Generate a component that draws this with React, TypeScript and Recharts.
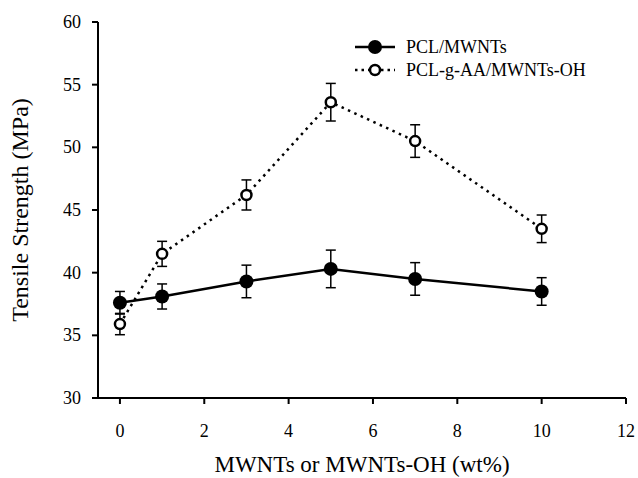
import { ErrorBar, Line, LineChart, XAxis, YAxis } from 'recharts';

const loadings = [0, 1, 3, 5, 7, 10];
const pclMwnts = [37.6, 38.1, 39.3, 40.3, 39.5, 38.5];
const pclMwntsErr = [0.9, 1.0, 1.3, 1.5, 1.3, 1.1];
const pclAaMwntsOh = [35.9, 41.5, 46.2, 53.6, 50.5, 43.5];
const pclAaMwntsOhErr = [0.85, 1.0, 1.2, 1.5, 1.3, 1.1];
const xTicks = [0, 2, 4, 6, 8, 10, 12];
const yTicks = [30, 35, 40, 45, 50, 55, 60];

const data = loadings.map((x, i) => ({
    x,
    pcl: pclMwnts[i],
    pclErr: pclMwntsErr[i],
    aa: pclAaMwntsOh[i],
    aaErr: pclAaMwntsOhErr[i],
}));

const font = '"Liberation Serif", "Times New Roman", serif';

const XTick = ({ x, y, payload }: any) => (
    <text x={x} y={y} dy={16} textAnchor="middle" fill="#000" fontSize={18} fontFamily={font}>
        {payload.value}
    </text>
);

const YTick = ({ x, y, payload }: any) => (
    <text x={x} y={y} dy={6} textAnchor="end" fill="#000" fontSize={18} fontFamily={font}>
        {payload.value}
    </text>
);

// rotated y title, placed from the axis viewBox
const YTitle = ({ viewBox }: any) => {
    const cx = 28;
    const cy = viewBox.y + viewBox.height / 2;
    return (
        <text x={cx} y={cy} transform={`rotate(-90, ${cx}, ${cy})`} textAnchor="middle" fill="#000" fontSize={24} fontFamily={font}>
            Tensile Strength (MPa)
        </text>
    );
};

const LegendBox = () => (
    <svg width={250} height={50} style={{ fontFamily: font, position: 'absolute', left: 350, top: 37 }}>
        <line x1={5} y1={10} x2={45} y2={10} stroke="#000" strokeWidth={2.5} />
        <circle cx={25} cy={10} r={7} fill="#000" />
        <text x={56} y={16} fontSize={18}>PCL/MWNTs</text>
        <line x1={5} y1={33} x2={45} y2={33} stroke="#000" strokeWidth={2.5} strokeDasharray="2.5 4" />
        <circle cx={25} cy={33} r={5} fill="#fff" stroke="#000" strokeWidth={2.5} />
        <text x={56} y={39} fontSize={18}>PCL-g-AA/MWNTs-OH</text>
    </svg>
);

const App = () => {
    return (
        <div style={{ position: 'absolute', left: 0, top: 0, width: 638, height: 478, background: '#fff', fontFamily: font }}>
            <LineChart width={638} height={478} data={data} margin={{ top: 22, right: 12, left: 0, bottom: 0 }}>
                <XAxis
                    dataKey="x"
                    type="number"
                    domain={[-0.52, 12]}
                    ticks={xTicks}
                    allowDataOverflow
                    height={80}
                    tickSize={6}
                    tickMargin={17}
                    stroke="#000"
                    strokeWidth={2}
                    tick={<XTick />}
                    label={{ value: 'MWNTs or MWNTs-OH (wt%)', position: 'insideBottom', offset: 6, fill: '#000', fontSize: 23, fontFamily: font }}
                />
                <XAxis xAxisId="top" orientation="top" type="number" domain={[-0.52, 12]} height={0} tick={false} tickLine={false} stroke="#000" strokeWidth={2} />
                <YAxis
                    type="number"
                    domain={[30, 60]}
                    ticks={yTicks}
                    width={98}
                    tickSize={6}
                    tickMargin={11}
                    stroke="#000"
                    strokeWidth={2}
                    tick={<YTick />}
                    label={<YTitle />}
                />
                <YAxis yAxisId="right" orientation="right" domain={[30, 60]} width={0} tick={false} tickLine={false} stroke="#000" strokeWidth={2} />
                <Line
                    name="PCL/MWNTs"
                    dataKey="pcl"
                    stroke="#000"
                    strokeWidth={2.5}
                    dot={{ r: 7, fill: '#000', stroke: '#000', strokeWidth: 0 }}
                    isAnimationActive={false}
                >
                    <ErrorBar dataKey="pclErr" width={5} stroke="#000" strokeWidth={1.5} direction="y" />
                </Line>
                <Line
                    name="PCL-g-AA/MWNTs-OH"
                    dataKey="aa"
                    stroke="#000"
                    strokeWidth={2.5}
                    strokeDasharray="2.5 4.5"
                    dot={{ r: 5, fill: '#fff', stroke: '#000', strokeWidth: 2.5, strokeDasharray: '0' }}
                    isAnimationActive={false}
                >
                    <ErrorBar dataKey="aaErr" width={5} stroke="#000" strokeWidth={1.5} direction="y" />
                </Line>
            </LineChart>
            <LegendBox />
        </div>
    );
};

export default App;
